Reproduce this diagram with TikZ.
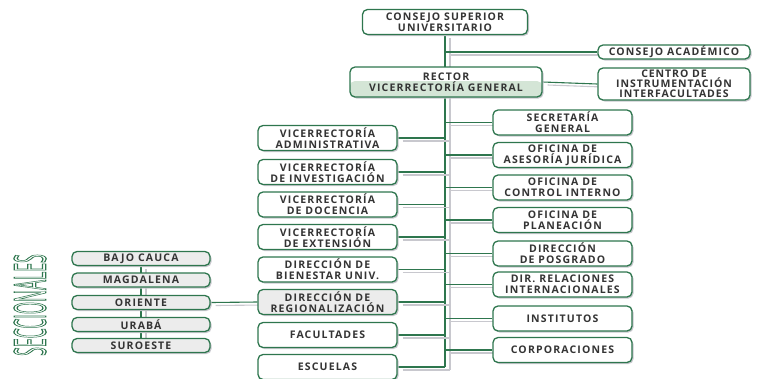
\documentclass[tikz,border=0pt]{standalone}
\usepackage{fontspec}
\setmainfont{Open Sans}
\usetikzlibrary{positioning}
\definecolor{green}{RGB}{46,118,78}
\definecolor{shade}{RGB}{200,200,206}
\definecolor{ink}{RGB}{52,52,52}
\definecolor{lightgreen}{RGB}{212,229,214}
\definecolor{lightgray}{RGB}{236,236,236}
\pgfdeclarelayer{back}
\pgfsetlayers{back,main}

\tikzset{
	box/.style={draw=green,line width=1.3pt,rounded corners=5pt,fill=white,text=ink,align=center,inner sep=0pt,
		font=\bfseries\fontsize{10.5}{11}\selectfont\addfontfeature{LetterSpace=11},
		minimum width=139pt,minimum height=25pt,
		preaction={fill=shade,transform canvas={shift={(1.5pt,-1.5pt)}}}},
	sbox/.style={box,fill=lightgray,minimum width=138pt,minimum height=14pt},
	link/.style={draw=green,line width=1.1pt,
		preaction={draw=shade,line width=1.1pt,transform canvas={shift={(5pt,-3pt)}}}},
}

\begin{document}
\begin{tikzpicture}[x=1pt,y=-1pt]
	\useasboundingbox (0,0) rectangle (757,378);
	\clip (0,0) rectangle (757,378);

	% top of the chart
	\node[box,minimum width=165pt] (csu) at (445,22) {CONSEJO SUPERIOR\\UNIVERSITARIO};
	\node[box,minimum width=152pt,minimum height=14pt] (cacad) at (674,52) {CONSEJO ACADÉMICO};
	\node[box,minimum width=192pt,minimum height=30pt,
		path picture={\fill[lightgreen] ([yshift=1pt]path picture bounding box.west) rectangle (path picture bounding box.south east);}]
		(rector) at (446,82) {RECTOR\\VICERRECTORÍA GENERAL};
	\node[box,minimum width=152pt,minimum height=32pt,font=\bfseries\fontsize{10.5}{10}\selectfont\addfontfeature{LetterSpace=9}] (centro) at (674,84) {CENTRO DE\\INSTRUMENTACIÓN\\INTERFACULTADES};
	\coordinate (bot) at (445,367);

	% left column
	\foreach \n/\y/\t in {vadm/138/{VICERRECTORÍA\\ADMINISTRATIVA},vinv/172/{VICERRECTORÍA\\DE INVESTIGACIÓN},
		vdoc/204.5/{VICERRECTORÍA\\DE DOCENCIA},vext/237/{VICERRECTORÍA\\DE EXTENSIÓN},
		bien/269.5/{DIRECCIÓN DE\\BIENESTAR UNIV.},facu/335/{FACULTADES},escu/367/{ESCUELAS}}
		\node[box] (\n) at (327.5,\y) {\t};
	\node[box,fill=lightgray] (regio) at (327.5,302) {DIRECCIÓN DE\\REGIONALIZACIÓN};

	% right column
	\foreach \n/\y/\t in {secg/122.5/{SECRETARÍA\\GENERAL},ase/155/{OFICINA DE\\ASESORÍA JURÍDICA},
		ctrl/187.5/{OFICINA DE\\CONTROL INTERNO},plan/220/{OFICINA DE\\PLANEACIÓN},
		posg/253.5/{DIRECCIÓN\\DE POSGRADO},rel/284.5/{DIR. RELACIONES\\INTERNACIONALES},
		inst/318.5/{INSTITUTOS},corp/350/{CORPORACIONES}}
		\node[box] (\n) at (562.5,\y) {\t};

	% seccionales
	\foreach \n/\y/\t in {bajo/258.5/{BAJO CAUCA},magd/280/{MAGDALENA},orie/302.5/{ORIENTE},
		urab/324.5/{URABÁ},suro/345.5/{SUROESTE}}
		\node[sbox] (\n) at (141,\y) {\t};
	\node[rotate=90,inner sep=0pt,text=green] (secc) at (30,305)
		{\special{pdf:literal direct 1 Tr 1.3 w}\scalebox{0.36}[1]{\fontsize{44}{44}\selectfont SECCIONALES}\special{pdf:literal direct 0 Tr}};

	% connectors, behind the boxes
	\begin{pgfonlayer}{back}
		\draw[link] (csu.south) -- (bot);
		\draw[link] (cacad.west -| bot) -- (cacad.west);
		\draw[link] (rector.east) -- (centro.west);
		\foreach \n in {vadm,vinv,vdoc,vext,bien,regio,facu,escu}
			\draw[link] (\n.east) -- (\n.east -| bot);
		\foreach \n in {secg,ase,ctrl,plan,posg,rel,inst,corp}
			\draw[link] (\n.west -| bot) -- (\n.west);
		\draw[link] (orie.east) -- (regio.west);
		\draw[link] (bajo.south) -- (suro.north);
	\end{pgfonlayer}
\end{tikzpicture}
\end{document}
